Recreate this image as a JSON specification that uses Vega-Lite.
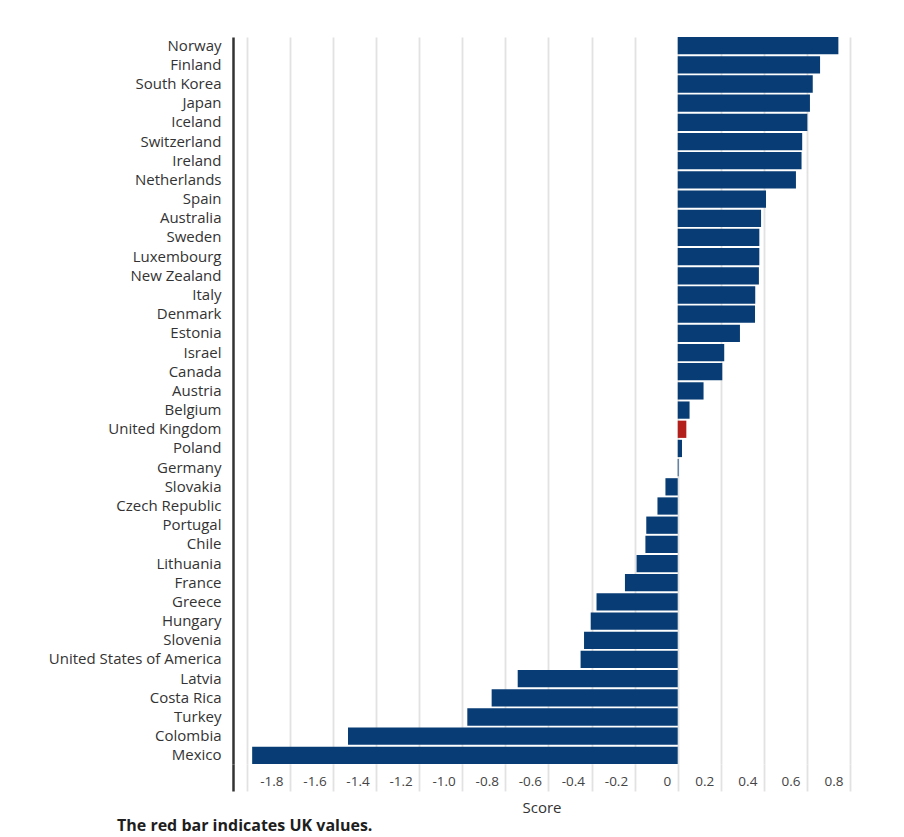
{
  "$schema": "https://vega.github.io/schema/vega-lite/v6.json",
  "autosize": {"type": "none"},
  "padding": {"left": 233, "top": 37, "right": 54, "bottom": 73},
  "width": 617,
  "height": 727,
  "background": "white",
  "title": {
    "text": "The red bar indicates UK values.",
    "orient": "bottom",
    "anchor": "start",
    "frame": "group",
    "dx": -116,
    "offset": 3,
    "font": "Open Sans",
    "fontSize": 16,
    "fontWeight": "bold",
    "color": "#1e1e1e"
  },
  "data": {
    "values": [
      {"country": "Norway", "score": 0.746},
      {"country": "Finland", "score": 0.661},
      {"country": "South Korea", "score": 0.627},
      {"country": "Japan", "score": 0.614},
      {"country": "Iceland", "score": 0.602},
      {"country": "Switzerland", "score": 0.578},
      {"country": "Ireland", "score": 0.575},
      {"country": "Netherlands", "score": 0.549},
      {"country": "Spain", "score": 0.41},
      {"country": "Australia", "score": 0.387},
      {"country": "Sweden", "score": 0.379},
      {"country": "Luxembourg", "score": 0.379},
      {"country": "New Zealand", "score": 0.377},
      {"country": "Italy", "score": 0.36},
      {"country": "Denmark", "score": 0.359},
      {"country": "Estonia", "score": 0.289},
      {"country": "Israel", "score": 0.216},
      {"country": "Canada", "score": 0.207},
      {"country": "Austria", "score": 0.12},
      {"country": "Belgium", "score": 0.055},
      {"country": "United Kingdom", "score": 0.04},
      {"country": "Poland", "score": 0.02},
      {"country": "Germany", "score": 0.004},
      {"country": "Slovakia", "score": -0.057},
      {"country": "Czech Republic", "score": -0.094},
      {"country": "Portugal", "score": -0.146},
      {"country": "Chile", "score": -0.15},
      {"country": "Lithuania", "score": -0.191},
      {"country": "France", "score": -0.245},
      {"country": "Greece", "score": -0.377},
      {"country": "Hungary", "score": -0.404},
      {"country": "Slovenia", "score": -0.435},
      {"country": "United States of America", "score": -0.451},
      {"country": "Latvia", "score": -0.743},
      {"country": "Costa Rica", "score": -0.864},
      {"country": "Turkey", "score": -0.977},
      {"country": "Colombia", "score": -1.531},
      {"country": "Mexico", "score": -1.976}
    ]
  },
  "mark": {"type": "bar"},
  "encoding": {
    "y": {
      "field": "country",
      "type": "nominal",
      "sort": null,
      "scale": {"paddingInner": 0.1, "paddingOuter": 0},
      "axis": {
        "title": null,
        "domain": false,
        "ticks": false,
        "labelPadding": 12,
        "labelFont": "Open Sans",
        "labelFontSize": 15,
        "labelColor": "#333333"
      }
    },
    "x": {
      "field": "score",
      "type": "quantitative",
      "scale": {"domain": [-2.065, 0.8], "nice": false, "zero": false},
      "axis": {
        "title": "Score",
        "titleFont": "Open Sans",
        "titleFontSize": 15,
        "titleFontWeight": "normal",
        "titleColor": "#333333",
        "titleBaseline": "alphabetic",
        "titleY": 48,
        "values": [-2.065, -2.0, -1.8, -1.6, -1.4, -1.2, -1.0, -0.8, -0.6, -0.4, -0.2, 0, 0.2, 0.4, 0.6, 0.8],
        "labelExpr": "datum.value < -1.99 ? '' : (abs(datum.value) < 1e-9 ? '0' : (datum.value < 0 ? '-' : '') + format(abs(datum.value), '.1f'))",
        "labelAlign": "right",
        "labelOffset": -7,
        "labelPadding": -17,
        "labelFont": "Open Sans",
        "labelFontSize": 13.5,
        "labelColor": "#444444",
        "labelFlush": false,
        "labelOverlap": false,
        "domain": false,
        "grid": true,
        "gridColor": {"condition": {"test": "datum.value < -2.01", "value": "#333333"}, "value": "#e2e2e2"},
        "gridWidth": {"condition": {"test": "datum.value < -2.01", "value": 2.5}, "value": 1.8},
        "ticks": true,
        "tickSize": 27,
        "tickColor": {"condition": {"test": "datum.value < -2.01", "value": "#333333"}, "value": "#e2e2e2"},
        "tickWidth": {"condition": {"test": "datum.value < -2.01", "value": 2.5}, "value": 1.8}
      }
    },
    "color": {
      "condition": {"test": "datum.country === 'United Kingdom'", "value": "#b3201c"},
      "value": "#083c74"
    }
  },
  "config": {"view": {"stroke": null}}
}
